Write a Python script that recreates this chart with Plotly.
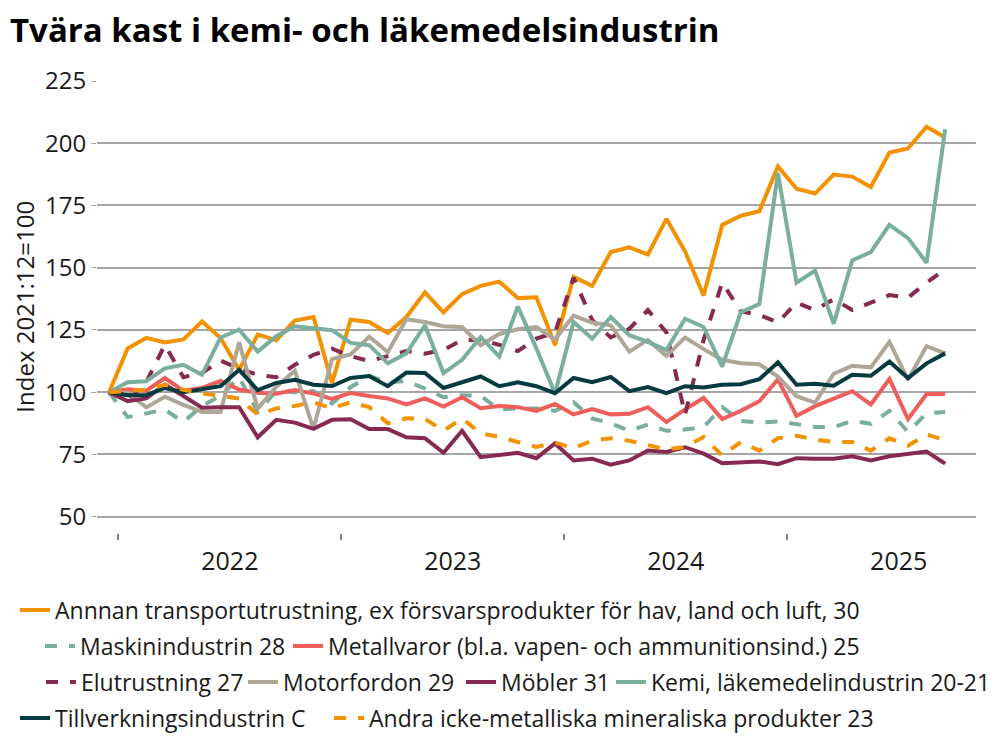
import plotly.graph_objects as go

# Months Dec 2021 .. Sep 2025 (index 2021:12 = 100)
months = list(range(46))
year_labels = ["2022", "2023", "2024", "2025"]
year_centers = [6.5, 18.5, 30.5, 42.5]

annnan = [100, 117.6, 121.8, 120, 121.2, 128.4, 121.8, 109, 123.1, 120.9,
          128.8, 130.2, 103.7, 129.1, 128.2, 123.8, 130.2, 140.1, 132.1, 139.4,
          142.7, 144.4, 137.8, 138.1, 118.9, 146.3, 142.7, 156.3, 158.2, 155.3,
          169.6, 156.6, 138.8, 167.2, 170.9, 172.7, 190.7, 181.7, 179.8, 187.4,
          186.6, 182.4, 196.3, 197.9, 206.6, 202.3]
maskin = [100, 90, 91.5, 93, 88, 94.5, 98.5, 106, 92, 100.5,
          100, 100.5, 95.5, 102, 106.5, 104, 104.5, 101.5, 98, 98.8,
          98.5, 93, 93.5, 93.5, 92.5, 96, 89.5, 87.5, 84.5, 87,
          84.5, 85, 86, 94, 88.5, 87.8, 88.3, 87, 86, 86,
          88.5, 87.3, 92.5, 84, 91.5, 92]
metall = [100, 101.2, 100.6, 105.7, 100.6, 101.7, 104.5, 101.1, 99.8, 99.4,
          100.9, 99.5, 97.3, 99.7, 98.5, 97.5, 95.1, 97.5, 94.2, 98,
          93.6, 94.5, 94, 92.5, 95.3, 91.1, 93.2, 91.1, 91.3, 94,
          88, 93.1, 97.7, 89.2, 92.5, 96.4, 105.2, 90.5, 94.4, 97.3,
          100.4, 95.1, 105.3, 89.2, 99.3, 99.3]
elutr = [100, 96.5, 104, 119, 106, 107.7, 112.7, 109.5, 107, 106,
         111, 115, 117.5, 114.5, 112.5, 114.5, 116.5, 115.5, 117, 121,
         121, 119, 116.5, 121.5, 124, 146, 129, 122, 125.5, 133,
         124, 91, 121, 144, 132.5, 131, 128, 136, 133, 137.4,
         133, 136, 139, 138, 144, 149.3]
motor = [100, 99.7, 93.9, 98.2, 94.9, 92.1, 92.1, 120, 93.4, 102.2,
         108.6, 85.3, 113.3, 115.2, 122.3, 116.1, 129.3, 128.2, 126.5, 126.2,
         118.9, 123.4, 125.3, 126.2, 121.2, 130.8, 128, 126.9, 116.3, 121,
         114.5, 122, 117.3, 113, 111.6, 111.2, 106.3, 98.4, 95.8, 107.4,
         110.6, 110, 120.2, 105, 118.5, 115.6]
mobler = [100, 96.4, 97.5, 103, 98.5, 93.8, 94, 94, 81.9, 88.9,
          87.8, 85.3, 88.9, 89.1, 85.2, 85.2, 81.9, 81.5, 75.7, 84.5,
          73.9, 74.6, 75.7, 73.5, 79.4, 72.6, 73.3, 70.9, 72.6, 76.6,
          76, 77.9, 75.3, 71.5, 71.9, 72.2, 71.1, 73.5, 73.3, 73.3,
          74.3, 72.6, 74.3, 75.3, 76.2, 71.3]
kemi = [100, 104, 104.4, 109.6, 111, 107, 122, 125.1, 116.3, 122.5,
        126.5, 125.5, 124.9, 119.8, 118.9, 111.6, 115.6, 126.9, 107.7, 113,
        122.2, 114.3, 134.4, 117.6, 99.5, 128.2, 121.5, 130.2, 122.9, 120.2,
        116.9, 129.5, 126.2, 110.3, 132.1, 135.4, 188, 144, 148.9, 127.5,
        152.9, 156.3, 167.2, 161.9, 152, 205.6]
tillv = [100, 98.8, 98.8, 101.7, 100, 101.3, 102.4, 109, 100.8, 103.7,
         105, 103, 102.5, 105.7, 106.5, 102.4, 107.9, 107.7, 101.7, 104,
         106.3, 102.4, 104, 102.4, 99.6, 105.7, 104, 106.1, 100.4, 102.1,
         99.6, 102.4, 101.9, 103, 103.2, 105.2, 112, 103, 103.4, 102.6,
         107, 106.6, 112.3, 105.7, 111.6, 115.6]
andra = [100, 100.5, 101, 103, 101, 99.5, 98.5, 97.5, 91, 93.5,
         94.5, 96, 93.5, 96, 94, 87.5, 89.5, 89.3, 84.5, 89.5,
         83.5, 82, 80, 78, 79.8, 77.5, 80.5, 81.5, 80.5, 78.7,
         77, 78, 82, 74.5, 80, 76.5, 81.5, 82.5, 81, 80,
         80, 76.5, 81.5, 78.5, 83, 80.8]

ORANGE = "#F39200"
TEAL = "#7AAE9F"
RED = "#EE5E5B"
MAROON = "#862A52"
BEIGE = "#AEA698"
DARK = "#053A3E"

names = [
    "Annnan transportutrustning, ex försvarsprodukter för hav, land och luft, 30",
    "Maskinindustrin 28",
    "Metallvaror (bl.a. vapen- och ammunitionsind.) 25",
    "Elutrustning 27",
    "Motorfordon 29",
    "Möbler 31",
    "Kemi, läkemedelindustrin 20-21",
    "Tillverkningsindustrin C",
    "Andra icke-metalliska mineraliska produkter 23",
]
values = [annnan, maskin, metall, elutr, motor, mobler, kemi, tillv, andra]
colors = [ORANGE, TEAL, RED, MAROON, BEIGE, MAROON, TEAL, DARK, ORANGE]
dashes = ["solid", "dash", "solid", "dash", "solid", "solid", "solid", "solid", "dash"]

# legend entry placement (screen px): left edge and row centre
leg_x = [15, 40, 288, 41, 243, 461, 611, 15, 329]
leg_y = [610, 646, 646, 682, 682, 682, 682, 718, 718]

FONT = "Open Sans"
OFF = 8  # page offset of the plot div
W, H = 1008, 756

fig = go.Figure()
legends = {}
for k, (name, vals, col, dash) in enumerate(zip(names, values, colors, dashes)):
    key = "legend" if k == 0 else f"legend{k + 1}"
    fig.add_trace(go.Scatter(x=months, y=vals, name=name, mode="lines",
                             line=dict(color=col, width=4, dash=dash),
                             legend=key))
    legends[key] = dict(orientation="h", xref="container", yref="container",
                        x=(leg_x[k] - OFF) / W, y=1 - (leg_y[k] - OFF) / H,
                        xanchor="left", yanchor="middle",
                        font=dict(family=FONT, size=23, color="#1a1a1a"),
                        bgcolor="rgba(0,0,0,0)", itemwidth=30, tracegroupgap=0)

fig.update_layout(
    width=W, height=H,
    margin=dict(l=97 - OFF, r=W - (976 - OFF), t=81 - OFF, b=H - (538 - OFF)),
    paper_bgcolor="white", plot_bgcolor="white",
    font=dict(family=FONT, color="#1a1a1a"),
    title=dict(text="Tvära kast i kemi- och läkemedelsindustrin",
               x=(10 - OFF) / W, y=1 - (30 - OFF) / H, xref="container", yref="container",
               xanchor="left", yanchor="middle",
               font=dict(family=FONT, size=33, weight="bold", color="black")),
    showlegend=True,
    **legends,
)
fig.update_yaxes(range=[43.65, 225], tickvals=[50, 75, 100, 125, 150, 175, 200, 225],
                 showgrid=True, gridcolor="#A6A6A6", gridwidth=1.5,
                 zeroline=False, showline=False,
                 ticks="outside", ticklen=5, tickcolor="#A6A6A6",
                 tickfont=dict(family=FONT, size=24, color="#1a1a1a"),
                 title=dict(text="Index 2021:12=100", standoff=8,
                            font=dict(family=FONT, size=24, color="#1a1a1a")))
fig.update_xaxes(range=[-0.65, 46.66], tickmode="array", tickvals=year_centers,
                 ticktext=year_labels, showgrid=False, zeroline=False, showline=False,
                 ticks="outside", ticklen=6, tickcolor="rgba(0,0,0,0)",
                 tickfont=dict(family=FONT, size=25, color="#1a1a1a"),
                 minor=dict(tickmode="linear", tick0=0.5, dtick=12, ticks="outside",
                            ticklen=6, tickcolor="#808080", tickwidth=1.5, showgrid=False))

fig.write_html("out.html")
